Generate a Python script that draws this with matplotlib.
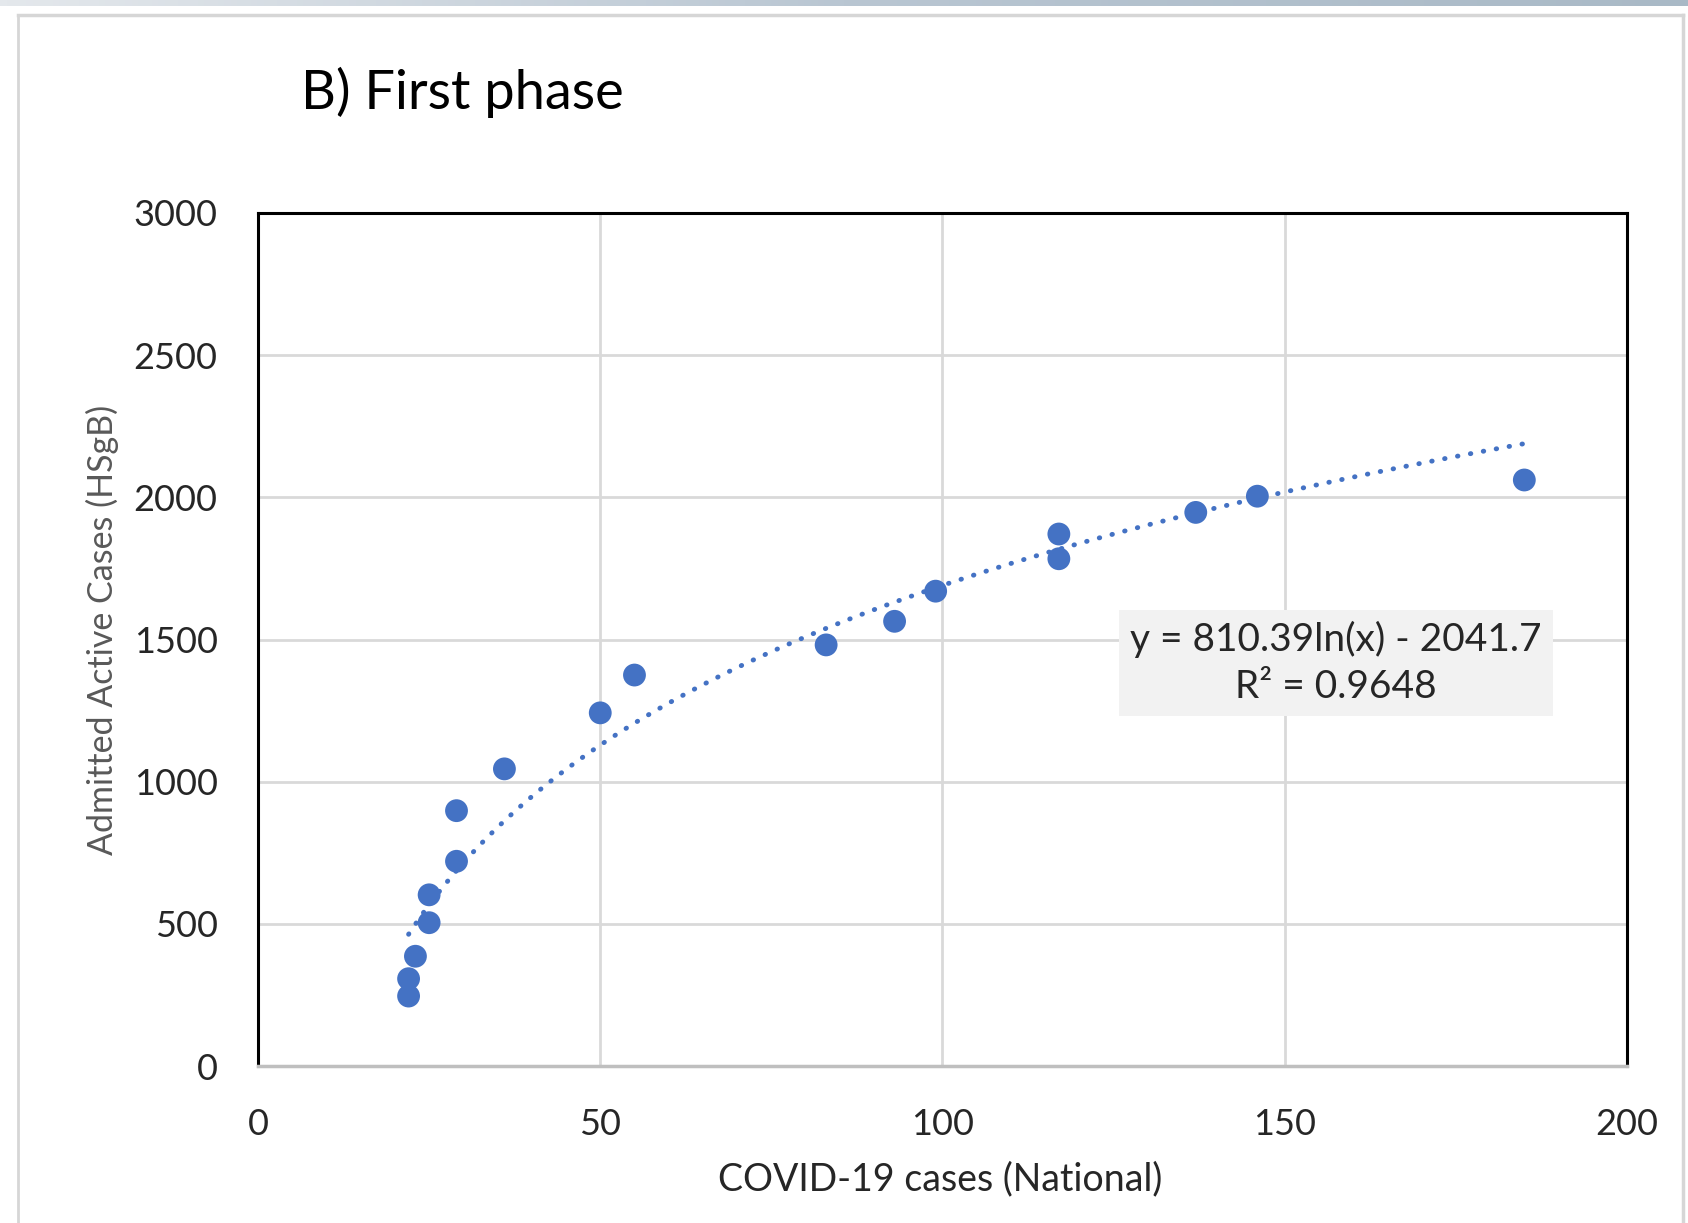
import numpy as np
import matplotlib
matplotlib.use("Agg")
import matplotlib.pyplot as plt
from matplotlib.lines import Line2D

# data
national_cases = [22, 22, 23, 25, 25, 29, 29, 36, 50, 55, 83, 93, 99, 117, 117, 137, 146, 185]
admitted_cases = [246, 307, 386, 504, 602, 720, 898, 1045, 1242, 1375, 1481, 1564, 1670, 1784, 1871, 1947, 2004, 2061]

# log trendline as printed on the chart
trend_a = 810.39
trend_b = -2041.7
r_squared = 0.9648

x_ticks = [0, 50, 100, 150, 200]
y_ticks = [0, 500, 1000, 1500, 2000, 2500, 3000]

blue = "#4472C4"
plt.rcParams['font.family'] = ['Lato', 'DejaVu Sans']

W, H = 1688, 1223
fig = plt.figure(figsize=(W / 100, H / 100), dpi=100)
fig.patch.set_facecolor("white")

#screenshot frame bits (top band and thin gray border)
grad = np.linspace(0, 1, 256).reshape(1, -1)
band = fig.add_axes([0, 1 - 6 / H, 1, 6 / H])
band.imshow(grad, aspect="auto", cmap=matplotlib.colors.LinearSegmentedColormap.from_list(
    "b", ["#e4e8ec", "#b9c6d2", "#a9b9c6"]))
band.axis("off")
fig.add_artist(Line2D([18 / W, 1 - 5 / W], [1 - 15 / H, 1 - 15 / H], color="#d6d6d6", lw=2.5))
fig.add_artist(Line2D([18 / W, 18 / W], [0, 1 - 15 / H], color="#d6d6d6", lw=2))
fig.add_artist(Line2D([1 - 5 / W, 1 - 5 / W], [0, 1 - 15 / H], color="#d6d6d6", lw=2.5))

ax = fig.add_axes([258 / W, 157 / H, 1369 / W, 853 / H])
ax.set_xlim(0, 200)
ax.set_ylim(0, 3000)
ax.set_xticks(x_ticks)
ax.set_yticks(y_ticks)
ax.grid(True, color="#d9d9d9", lw=2)
ax.set_axisbelow(True)
ax.tick_params(length=0, labelsize=26, colors="#262626")
ax.tick_params(axis="y", pad=29)
ax.tick_params(axis="x", pad=30)
for side in ["top", "left", "right"]:
    ax.spines[side].set_color("black")
    ax.spines[side].set_linewidth(2.2)
ax.spines["bottom"].set_color("#bfbfbf")
ax.spines["bottom"].set_linewidth(2.5)

# trendline
xs = np.linspace(min(national_cases), max(national_cases), 300)
ax.plot(xs, trend_a * np.log(xs) + trend_b, color=blue, lw=3.5,
        linestyle=(0, (0.1, 2.6)), dash_capstyle="round", zorder=2)

ax.scatter(national_cases, admitted_cases, s=270, color=blue, edgecolors="none", zorder=3)

ax.text(1336 / W, 1 - 663 / H,
        "y = %.2fln(x) - %.1f\nR² = %.4f" % (trend_a, -trend_b, r_squared),
        transform=fig.transFigure, ha="center", va="center", fontsize=28,
        color="#262626", linespacing=1.4, zorder=4,
        bbox=dict(boxstyle="square,pad=0.28", facecolor="#f2f2f2", edgecolor="none"))

fig.text(301 / W, 1 - 92 / H, "B) First phase", fontsize=39, ha="left", va="center", color="black")
fig.text(102 / W, 1 - 630 / H, "Admitted Active Cases (HSgB)", rotation=90, fontsize=24.5,
         ha="center", va="center", color="#595959")
fig.text(940 / W, 1 - 1179 / H, "COVID-19 cases (National)", fontsize=27,
         ha="center", va="center", color="#262626")

fig.savefig("out.png", dpi=100)
